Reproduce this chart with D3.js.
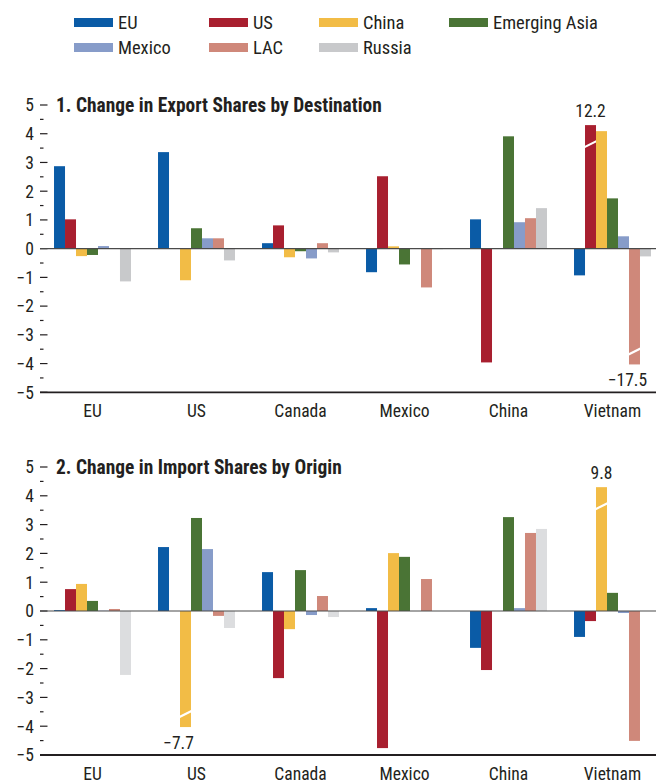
<!DOCTYPE html>
<html><head><meta charset="utf-8">
<script src="https://cdn.jsdelivr.net/npm/d3@7"></script>
<style>
body{margin:0;background:#fff;}
svg text{font-family:"Liberation Sans Narrow","Roboto Condensed","DejaVu Sans Condensed",sans-serif;fill:#231f20;}
</style></head>
<body><svg id="chart" width="656" height="782"></svg>
<script>
const categories = ["EU","US","Canada","Mexico","China","Vietnam"];
const seriesNames = ["EU","US","China","Emerging Asia","Mexico","LAC","Russia"];
const seriesColors = ["#0a5ba6","#a81f2f","#f2bc46","#4a7435","#879cc9","#cf887a","#c8c9cb"];
const yTicks = [-5,-4,-3,-2,-1,0,1,2,3,4,5];

// Panel 1: Change in export shares by destination
const expEU      = [2.87, 3.36, 0.19, -0.82, 1.02, -0.93];
const expUS      = [1.02, 0.00, 0.81, 2.52, -3.96, 12.2];
const expChina   = [-0.26, -1.10, -0.30, 0.08, 0.00, 4.09];
const expEA      = [-0.22, 0.71, -0.09, -0.55, 3.91, 1.75];
const expMexico  = [0.09, 0.36, -0.34, 0.00, 0.92, 0.43];
const expLAC     = [0.01, 0.36, 0.19, -1.35, 1.06, -17.5];
const expRussia  = [-1.14, -0.41, -0.13, -0.02, 1.41, -0.27];

// Panel 2: Change in import shares by origin
const impEU      = [0.03, 2.22, 1.35, 0.10, -1.28, -0.90];
const impUS      = [0.76, 0.00, -2.33, -4.76, -2.05, -0.35];
const impChina   = [0.94, -7.7, -0.63, 2.01, 0.00, 9.8];
const impEA      = [0.35, 3.23, 1.42, 1.88, 3.26, 0.63];
const impMexico  = [0.01, 2.15, -0.14, 0.00, 0.10, -0.07];
const impLAC     = [0.07, -0.17, 0.52, 1.11, 2.71, -4.51];
const impRussia  = [-2.22, -0.59, -0.21, 0.00, 2.85, 0.00];

// bars beyond the axis range are drawn broken at these values
const capTop = 4.3, capBottom = -4.03;

const svg = d3.select("#chart");

function fit(sample, target, weight){
  const t = svg.append("text").attr("font-size",100).attr("font-weight",weight||"normal").text(sample);
  const w = t.node().getComputedTextLength();
  t.remove();
  return 100*target/w;
}
const fsLegend = fit("Emerging Asia", 105);
const fsAxis = fit("Vietnam", 57.5);
const fsTitle = fit("1. Change in Export Shares by Destination", 326, "bold");
const fsValue = fit("12.2", 30.5);

// Legend
const legendCols = [74, 209, 319, 449];
const legendRows = [22.5, 47.5];
seriesNames.forEach((s,i)=>{
  const lx = legendCols[i%4], ly = legendRows[Math.floor(i/4)];
  svg.append("rect").attr("x",lx).attr("y",ly-4.5).attr("width",39).attr("height",9).attr("fill",seriesColors[i]);
  svg.append("text").attr("x",lx+44).attr("y",ly).attr("dy","0.36em").attr("font-size",fsLegend).text(s);
});

const x0 = d3.scaleBand().domain(categories).range([40.5,664.5]).paddingInner(0.26).paddingOuter(0.13);
const x1 = d3.scaleBand().domain(seriesNames).range([0,x0.bandwidth()]);

function panel(title, series, yTop, yBot, russiaColor){
  const y = d3.scaleLinear().domain([-5,5]).range([yBot,yTop]);
  const g = svg.append("g");
  const colors = seriesColors.slice(); colors[6] = russiaColor;
  yTicks.forEach(t=>{
    g.append("line").attr("x1",40).attr("x2",47.5).attr("y1",y(t)).attr("y2",y(t)).attr("stroke","#231f20").attr("stroke-width",1.2);
    g.append("text").attr("x",34).attr("y",y(t)).attr("dy","0.36em").attr("text-anchor","end").attr("font-size",fsAxis).text(d3.format("d")(t).replace("-","\u2212"));
  });
  yTicks.slice(0,-1).forEach(t=>{
    g.append("line").attr("x1",40).attr("x2",43.5).attr("y1",y(t+0.5)).attr("y2",y(t+0.5)).attr("stroke","#231f20").attr("stroke-width",1.2);
  });
  g.append("text").attr("x",56).attr("y",yTop).attr("dy","0.36em").attr("font-size",fsTitle).attr("font-weight","bold").text(title);
  series.forEach((vals,si)=>{
    vals.forEach((v,ci)=>{
      if (v===0) return;
      const c = categories[ci];
      const bx = x0(c)+x1(seriesNames[si]);
      const w = x1.bandwidth();
      const broken = v>5 || v<-5;
      const dv = broken ? (v>0?capTop:capBottom) : v;
      g.append("rect").attr("x",bx).attr("width",w)
        .attr("y",y(Math.max(0,dv))).attr("height",Math.abs(y(dv)-y(0)))
        .attr("fill",colors[si]);
      if (broken){
        const yb = v>0 ? y(capTop)+19 : y(capBottom)-13;
        g.append("line").attr("x1",bx-0.5).attr("x2",bx+w+0.5).attr("y1",yb+3).attr("y2",yb-3)
          .attr("stroke","#fff").attr("stroke-width",2.2);
        const lbl = d3.format(".1f")(v).replace("-","\u2212");
        g.append("text").attr("x",bx+w/2 + (v<0?-7:0)).attr("y", v>0 ? y(capTop)-8 : y(capBottom)+22)
          .attr("text-anchor","middle").attr("font-size",fsValue).text(lbl);
      }
    });
  });
  g.append("line").attr("x1",40).attr("x2",656).attr("y1",y(0)).attr("y2",y(0)).attr("stroke","#4a4a4a").attr("stroke-width",1.1);
  g.append("line").attr("x1",40).attr("x2",656).attr("y1",yBot).attr("y2",yBot).attr("stroke","#231f20").attr("stroke-width",1.8);
  categories.forEach(c=>{
    g.append("text").attr("x",x0(c)+x0.bandwidth()/2).attr("y",yBot+24.5).attr("text-anchor","middle").attr("font-size",fsAxis).text(c);
  });
}

panel("1. Change in Export Shares by Destination",
  [expEU,expUS,expChina,expEA,expMexico,expLAC,expRussia], 105, 392.3, "#c8c9cb");
panel("2. Change in Import Shares by Origin",
  [impEU,impUS,impChina,impEA,impMexico,impLAC,impRussia], 467, 755, "#dcdddf");
</script></body></html>
